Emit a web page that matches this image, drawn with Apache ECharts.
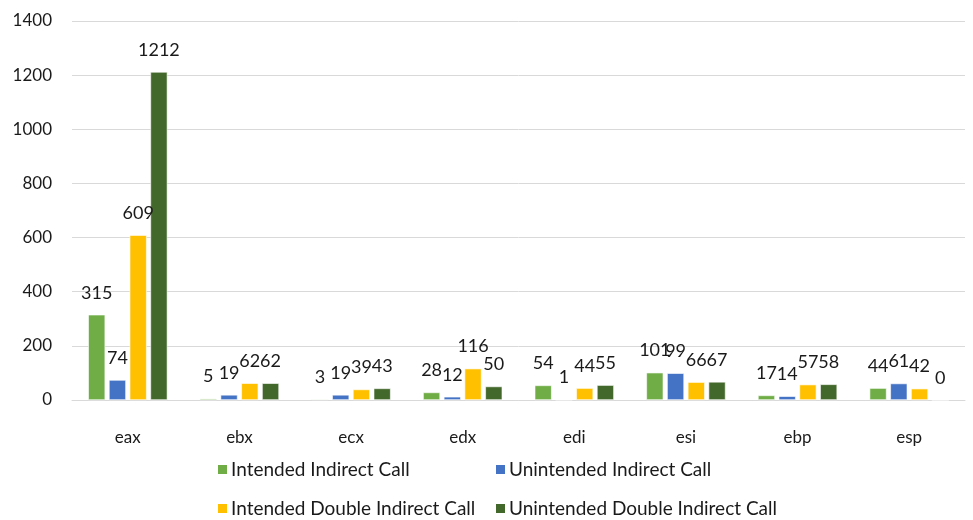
<!DOCTYPE html>
<html>
<head>
<meta charset="utf-8">
<script src="https://cdn.jsdelivr.net/npm/echarts@6/dist/echarts.min.js"></script>
<style>html,body{margin:0;padding:0;background:#fff;}#c{width:973px;height:520px;}</style>
</head>
<body>
<div id="c"></div>
<script>
const categories = ['eax','ebx','ecx','edx','edi','esi','ebp','esp'];
const seriesNames = ['Intended Indirect Call','Unintended Indirect Call','Intended Double Indirect Call','Unintended Double Indirect Call'];
const intendedIndirect = [315, 5, 3, 28, 54, 101, 17, 44];
const unintendedIndirect = [74, 19, 19, 12, 1, 99, 14, 61];
const intendedDouble = [609, 62, 39, 116, 44, 66, 57, 42];
const unintendedDouble = [1212, 62, 43, 50, 55, 67, 58, 0];
const yTicks = [0, 200, 400, 600, 800, 1000, 1200, 1400];
const colors = ['#70ad47','#4472c4','#ffc000','#43682b'];

const FONT = 'Lato, "Open Sans", sans-serif';
const TXT = '#1a1a1a';
const chart = echarts.init(document.getElementById('c'));
const values = [intendedIndirect, unintendedIndirect, intendedDouble, unintendedDouble];
const legendPos = [[211,455],[489,455],[211,494],[489,494]];

chart.setOption({
  animation: false,
  textStyle: {fontFamily: FONT},
  grid: {left: 72, right: 8, top: 21, bottom: 120, containLabel: false},
  legend: seriesNames.map((n, i) => ({
    data: [n], left: legendPos[i][0], top: legendPos[i][1],
    icon: 'rect', itemWidth: 11, itemHeight: 11, itemGap: 4,
    textStyle: {fontSize: 19, color: TXT, fontFamily: FONT, padding: [0,0,0,-2]}
  })),
  xAxis: {
    type: 'category', data: categories,
    axisLine: {lineStyle: {color: '#d9d9d9', width: 1}},
    axisTick: {show: false},
    axisLabel: {fontSize: 17, color: TXT, margin: 29, fontFamily: FONT}
  },
  yAxis: {
    type: 'value', min: yTicks[0], max: yTicks[yTicks.length-1], interval: 200,
    axisLine: {show: false}, axisTick: {show: false},
    splitLine: {lineStyle: {color: '#d9d9d9', width: 1}},
    axisLabel: {fontSize: 17, color: TXT, margin: 20, fontFamily: FONT, formatter: v => String(v)}
  },
  series: seriesNames.map((n, i) => ({
    name: n, type: 'bar', data: values[i],
    barWidth: 17, barGap: '22%',
    itemStyle: {color: colors[i], borderColor: '#fff', borderWidth: 0.6},
    label: {show: true, position: 'top', distance: 13, fontSize: 18, color: TXT, fontFamily: FONT}
  }))
});
</script>
</body>
</html>
